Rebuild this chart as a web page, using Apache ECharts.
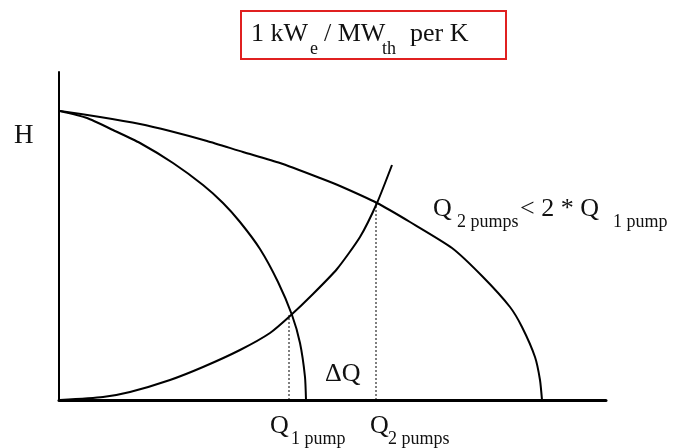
<!DOCTYPE html>
<html>
<head>
<meta charset="utf-8">
<script src="https://cdn.jsdelivr.net/npm/echarts@6/dist/echarts.min.js"></script>
<style>
  html, body { margin: 0; padding: 0; background: #fff; }
  #main { width: 675px; height: 448px; }
</style>
</head>
<body>
<div id="main"></div>
<script>
// flow Q (x) vs head H (y), arbitrary units
var pumpOne = [[1,289],[28,282],[54,270],[81,257],[114,237],[144,215],[164,197],[181,178],[201,151],[219,118],[233,85],[241,57],[246,23],[247,0]];
var pumpTwo = [[1,289],[41,283],[81,276],[111,269],[148,259],[184,248],[221,237],[261,222],[281,214],[318,197],[351,178],[393,152],[424,123],[451,93],[463,73],[476,43],[481,20],[483,0]];
var systemCurve = [[1,0],[44,3],[71,8],[111,20],[144,33],[181,50],[211,67],[231,84],[254,106],[278,131],[301,163],[318,197],[333,235]];

// operating points -> dotted drop lines
var opOne = [230, 85];
var opTwo = [317, 197];

var serif = '"Liberation Serif", "DejaVu Serif", serif';

// text pieces: [text, x, y(center), fontSize]
var labels = [
  ['1 kW', 251, 34, 26], ['e', 310, 49, 18], ['/ MW', 324, 34, 26], ['th', 382, 49, 18], ['per K', 410, 34, 26],
  ['H', 14, 136, 27],
  ['Q', 270, 426, 26], ['1 pump', 291, 439, 18],
  ['Q', 370, 426, 26], ['2 pumps', 388, 439, 18],
  ['\u0394Q', 325, 374, 26],
  ['Q', 433, 209, 26], ['2 pumps', 457, 222, 18], ['< 2 * Q', 520, 209, 26], ['1 pump', 613, 222, 18]
];

var myChart = echarts.init(document.getElementById('main'));

var curveStyle = { color: '#000', width: 2 };
var dropStyle = { color: '#000', width: 1, type: [2, 2] };

var graphics = [{
  type: 'rect',
  shape: { x: 241, y: 11, width: 265, height: 48 },
  style: { fill: 'none', stroke: '#e02020', lineWidth: 2 }
}];
labels.forEach(function (l) {
  graphics.push({
    type: 'text',
    style: {
      text: l[0], x: l[1], y: l[2],
      fontSize: l[3], fontFamily: serif, fill: '#111',
      textAlign: 'left', textVerticalAlign: 'middle'
    }
  });
});

var curve = function (data) {
  return { type: 'line', data: data, smooth: 0.2, showSymbol: false, lineStyle: curveStyle };
};

myChart.setOption({
  animation: false,
  grid: { left: 59, right: 69, top: 72, bottom: 48 },
  xAxis: {
    type: 'value', min: 0, max: 547,
    axisLine: { show: true, lineStyle: { color: '#000', width: 3 } },
    axisTick: { show: false }, axisLabel: { show: false }, splitLine: { show: false }
  },
  yAxis: {
    type: 'value', min: 0, max: 328,
    axisLine: { show: true, lineStyle: { color: '#000', width: 2 } },
    axisTick: { show: false }, axisLabel: { show: false }, splitLine: { show: false }
  },
  series: [
    curve(pumpOne),
    curve(pumpTwo),
    curve(systemCurve),
    { type: 'line', data: [[opOne[0], 0], opOne], showSymbol: false, lineStyle: dropStyle },
    { type: 'line', data: [[opTwo[0], 0], opTwo], showSymbol: false, lineStyle: dropStyle }
  ],
  graphic: graphics
});
</script>
</body>
</html>
